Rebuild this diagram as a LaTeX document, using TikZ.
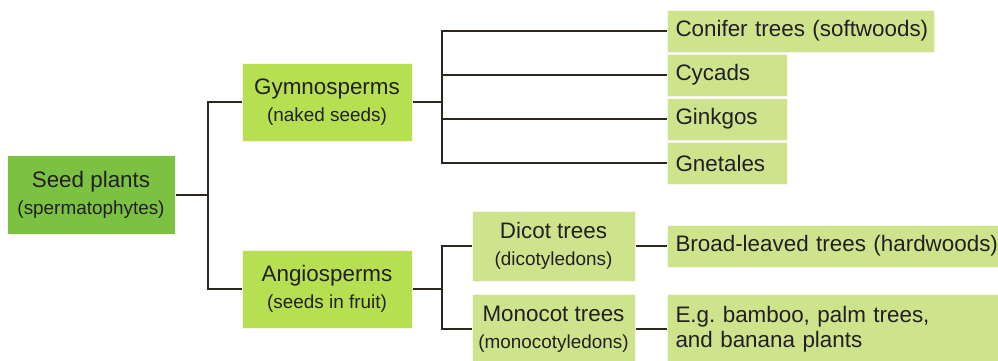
\documentclass[tikz,border=0pt]{standalone}
\usepackage{fontspec}
\setmainfont{Liberation Sans}
\usepackage{xcolor}
\usepackage{tikz}
\usetikzlibrary{positioning}
\definecolor{rootgreen}{RGB}{124,194,66}
\definecolor{groupgreen}{RGB}{182,224,82}
\definecolor{leafgreen}{RGB}{206,228,140}
\definecolor{boxedge}{RGB}{248,246,232}
\definecolor{inkline}{RGB}{45,40,30}
\definecolor{inktext}{RGB}{35,31,32}
\newcommand{\subline}[1]{{\fontsize{18.9}{27}\selectfont #1}}
\frenchspacing

\begin{document}
\begin{tikzpicture}[x=1pt, y=-1pt,
    box/.style={draw=boxedge, line width=1pt, inner sep=0pt, align=center, text=inktext, font=\fontsize{22.4}{27}\selectfont},
    group/.style={box, fill=groupgreen, minimum width=170pt, minimum height=78pt},
    subgroup/.style={box, fill=leafgreen, minimum width=163pt, minimum height=70pt},
    leaf/.style={box, fill=leafgreen, anchor=west, align=left, minimum height=42pt, inner xsep=8pt},
    link/.style={draw=inkline, line width=1.8pt}]
    \useasboundingbox (0,0) rectangle (998,360);

    \node[box, fill=rootgreen, minimum width=168pt, minimum height=79pt] (seed) at (91,195) {Seed plants\\\subline{(spermatophytes)}};
    \node[group] (gym) at (327,102) {Gymnosperms\\\subline{(naked seeds)}};
    \node[group] (ang) at (327,289) {Angiosperms\\\subline{(seeds in fruit)}};
    \node[subgroup] (dicot) at (553.5,246) {Dicot trees\\\subline{(dicotyledons)}};
    \node[subgroup] (mono) at (553.5,329) {Monocot trees\\\subline{(monocotyledons)}};

    \node[leaf, text width=251pt] (conifer) at (667,31) {\mbox{Conifer trees (softwoods)}};
    \node[leaf, text width=104pt] (cycads) at (667,75) {Cycads};
    \node[leaf, text width=104pt] (ginkgos) at (667,119) {Ginkgos};
    \node[leaf, text width=104pt] (gnetales) at (667,163) {Gnetales};
    \node[leaf, text width=330pt] (broad) at (667,246) {Broad-leaved trees (hardwoods)};
    \node[leaf, text width=330pt, minimum height=70pt, font=\fontsize{22.4}{25}\selectfont] (eg) at (667,329) {E.g. bamboo, palm trees,\\and banana plants};

    \coordinate (sj) at (208,195);
    \coordinate (gj) at (442,102);
    \coordinate (aj) at (442,289);

    \draw[link] (seed.east) -- (sj);
    \draw[link] (gym.west) -| (sj) |- (ang.west);
    \draw[link] (gym.east) -- (gj);
    \draw[link] (conifer.west) -| (gj) |- (gnetales.west);
    \foreach \n in {cycads,ginkgos}
        \draw[link] (gj |- \n.west) -- (\n.west);
    \draw[link] (ang.east) -- (aj);
    \draw[link] (dicot.west) -| (aj) |- (mono.west);
    \draw[link] (dicot.east) -- (broad.west);
    \draw[link] (mono.east) -- (eg.west);
\end{tikzpicture}
\end{document}
